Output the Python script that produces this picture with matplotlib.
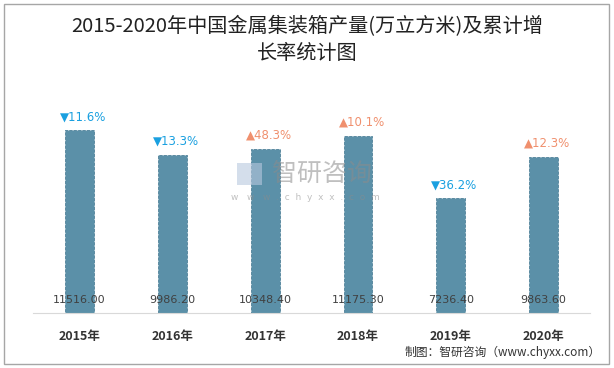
import matplotlib.pyplot as plt
import matplotlib.patches as patches

plt.rcParams['font.family'] = ['Noto Sans CJK SC', 'DejaVu Sans']

years = ['2015年', '2016年', '2017年', '2018年', '2019年', '2020年']
output = [11516.00, 9986.20, 10348.40, 11175.30, 7236.40, 9863.60]
growth = [-11.6, -13.3, 48.3, 10.1, -36.2, 12.3]

fig = plt.figure(figsize=(6.14, 3.68), dpi=100)
ax = fig.add_axes([0.054, 0.149, 0.907, 0.604])

x = list(range(len(years)))
ax.bar(x, output, width=0.31, color='#5b90a8', edgecolor='#4f8199',
       linewidth=0.6, linestyle='--', zorder=2)

for i, v in enumerate(output):
    ax.text(i, 500, f'{v:.2f}', ha='center', va='bottom', fontsize=8,
            color='#404040', family=['DejaVu Sans'], zorder=3)

for i, (v, g) in enumerate(zip(output, growth)):
    if g < 0:
        label, col = f'▼{abs(g)}%', '#1aa0e0'
    else:
        label, col = f'▲{g}%', '#f0906e'
    ax.text(i + 0.04, v + 450, label, ha='center', va='bottom', fontsize=8.5,
            color=col, family=['DejaVu Sans'])

ax.set_xlim(-0.5, len(years) - 0.5)
ax.set_ylim(0, 14000)
ax.set_xticks(x)
ax.set_xticklabels(years, fontsize=9, fontweight='bold', color='#333333')
ax.tick_params(axis='x', length=0, pad=12)
ax.set_yticks([])
for s in ['top', 'right', 'left']:
    ax.spines[s].set_visible(False)
ax.spines['bottom'].set_color('#d9d9d9')

# watermark
fig.text(0.524, 0.527, '智研咨询', fontsize=18, color='#8c8c8c', alpha=0.55,
         ha='center', va='center')
fig.text(0.497, 0.462, 'w   w   w  .  c  h  y  x  x  .  c  o  m', fontsize=6.5,
         color='#8c8c8c', alpha=0.55, ha='center', va='center', family=['DejaVu Sans'])
fig.patches.append(patches.Rectangle((0.386, 0.497), 0.041, 0.06, transform=fig.transFigure,
                                     facecolor='#b8c8de', alpha=0.6, edgecolor='none'))

fig.text(0.5, 0.927, '2015-2020年中国金属集装箱产量(万立方米)及累计增', fontsize=14.5,
         ha='center', va='center', color='#222222', fontweight='medium')
fig.text(0.5, 0.855, '长率统计图', fontsize=14.5, ha='center', va='center',
         color='#222222', fontweight='medium')
fig.text(0.978, 0.043, '制图：智研咨询（www.chyxx.com）', fontsize=8.5,
         ha='right', va='center', color='#333333')

fig.patches.append(patches.Rectangle((0.007, 0.011), 0.985, 0.978, transform=fig.transFigure,
                                     facecolor='none', edgecolor='#a6a6a6', linewidth=1))

fig.savefig('out.png', dpi=100)
